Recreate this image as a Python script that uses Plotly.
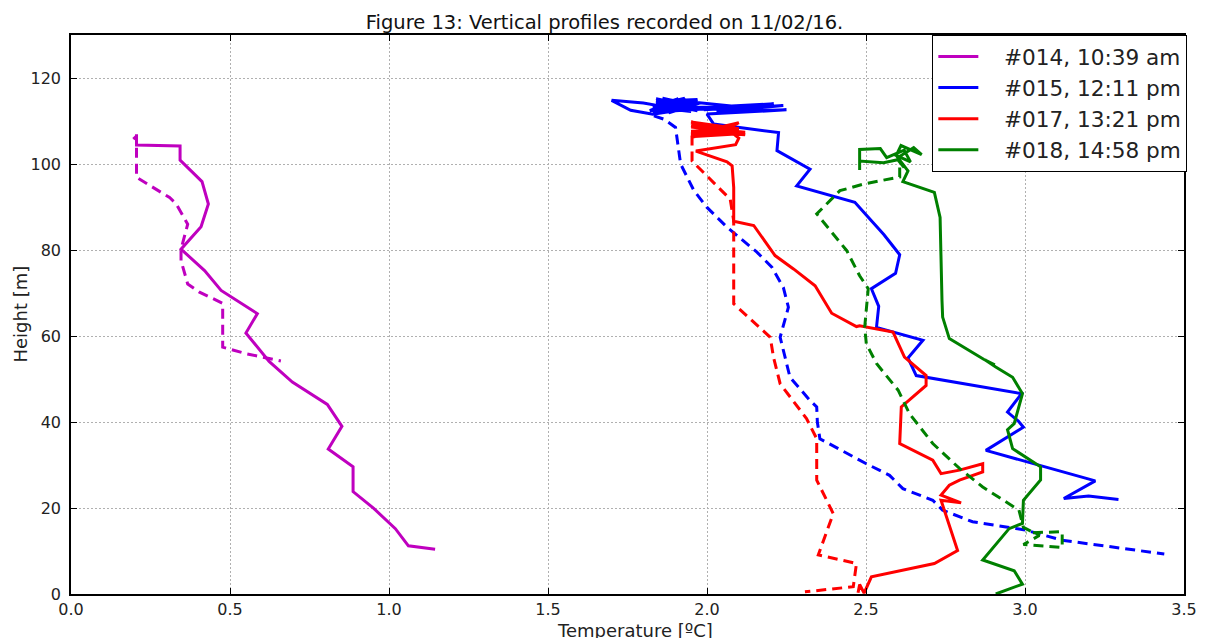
import plotly.graph_objects as go

# ---- Profile #014 (10:39 am) ----
temp_014_up = [1.145, 1.061, 1.020, 0.952, 0.887, 0.887, 0.809, 0.852, 0.806, 0.696, 0.623,
               0.550, 0.586, 0.472, 0.420, 0.346, 0.409, 0.432, 0.412, 0.343, 0.343, 0.206, 0.206]
height_014_up = [10.4, 11.2, 15.2, 19.9, 23.8, 29.6, 33.7, 39.0, 44.1, 49.3, 54.1,
                 60.7, 65.2, 70.6, 75.2, 80.2, 85.4, 90.7, 95.9, 100.9, 104.2, 104.4, 106.9]
temp_014_down = [0.196, 0.206, 0.206, 0.310, 0.331, 0.367, 0.346, 0.346, 0.367, 0.404, 0.477,
                 0.477, 0.550, 0.660]
height_014_down = [105.8, 106.5, 96.9, 92.2, 90.7, 86.0, 80.2, 77.5, 72.1, 70.2, 67.6,
                   57.4, 55.9, 54.2]

# ---- Profile #015 (12:11 pm) ----
temp_015_up = [3.294, 3.247, 3.200, 3.122, 3.221, 2.877, 2.995, 2.979, 2.945, 2.989, 2.658,
               2.632, 2.679, 2.533, 2.540, 2.517, 2.593, 2.606, 2.556, 2.517, 2.465, 2.282,
               2.324, 2.220, 2.225, 2.021, 2.000,
               2.25, 2.03, 2.24, 1.99, 2.21, 1.96, 2.17, 1.93, 1.85, 1.97, 1.84, 1.95, 1.83,
               1.91, 1.82, 1.94, 1.86, 1.97, 1.84, 1.96, 1.83, 1.95, 1.84, 1.97, 1.86,
               1.93, 1.88, 1.98, 1.85, 2.12, 1.90, 1.83, 1.76, 1.70, 1.80, 1.86]
height_015_up = [22.0, 22.4, 22.8, 22.2, 26.3, 33.4, 38.8, 40.2, 42.3, 46.6, 50.8,
                 54.9, 59.0, 62.0, 66.9, 71.0, 74.6, 78.9, 83.6, 86.8, 91.1, 94.9,
                 98.8, 103.1, 107.3, 109.3, 111.6,
                 112.6, 112.2, 113.6, 112.6, 114.0, 113.0, 112.8, 114.6, 112.0, 115.0, 114.6, 112.2, 113.2,
                 115.2, 112.4, 114.0, 115.3, 112.6, 114.2, 114.8, 112.0, 113.5, 115.2, 112.4, 114.0,
                 115.3, 111.9, 114.2, 113.0, 113.4, 112.4, 111.6, 112.5, 114.8, 114.2, 113.4]
temp_015_down = [1.833, 1.865, 1.901, 1.912, 1.917, 1.959, 2.000, 2.063, 2.157, 2.204, 2.240,
                 2.256, 2.230, 2.261, 2.324, 2.345, 2.347, 2.355, 2.501, 2.574, 2.616, 2.710,
                 2.741, 2.835, 3.000, 3.117, 3.438]
height_015_down = [111.2, 110.4, 108.5, 102.7, 100.0, 93.8, 89.9, 85.3, 79.5, 76.0, 71.3,
                   66.7, 59.7, 50.4, 45.0, 43.5, 40.0, 36.1, 30.3, 27.6, 24.5, 21.8,
                   19.5, 16.8, 14.9, 12.5, 9.3]

# ---- Profile #017 (13:21 pm) ----
temp_017_up = [2.475, 2.480, 2.494, 2.517, 2.715, 2.788, 2.736, 2.799, 2.736, 2.762, 2.794,
               2.867, 2.867, 2.794, 2.736, 2.710, 2.606, 2.611, 2.689, 2.689, 2.621, 2.585,
               2.480, 2.470, 2.392, 2.340, 2.272, 2.214, 2.147, 2.084, 2.084, 2.079, 2.063,
               1.965, 2.090, 2.100,
               2.08, 1.95, 2.10, 1.95, 2.06, 1.95, 2.12, 1.95, 2.10, 2.05, 1.96, 2.12, 1.95,
               2.08, 1.95, 2.09, 1.96, 2.10, 1.95, 2.04, 1.95, 2.03, 1.95]
height_017_up = [0.3, 2.2, 0.2, 4.0, 7.1, 10.1, 21.8, 21.2, 23.0, 25.3, 26.5,
                 28.4, 30.3, 28.8, 28.0, 31.1, 35.0, 43.5, 48.5, 50.8, 55.1, 60.9,
                 62.4, 62.2, 65.3, 71.7, 75.6, 78.7, 85.7, 86.7, 94.5, 99.6, 100.5,
                 103.0, 104.5, 106.0,
                 107.2, 109.8, 108.2, 106.2, 107.6, 108.6, 107.4, 107.0, 109.6, 107.6, 109.6, 106.8, 107.6,
                 108.0, 109.5, 107.0, 106.4, 107.8, 108.9, 107.5, 106.8, 108.0, 106.6]
temp_017_down = [1.953, 1.953, 2.073, 2.084, 2.084, 2.199, 2.209, 2.230, 2.313, 2.345, 2.345,
                 2.397, 2.350, 2.470, 2.460, 2.308]
height_017_down = [106.6, 100.7, 91.8, 86.8, 67.5, 59.7, 55.1, 48.9, 40.8, 36.1, 26.5,
                   18.7, 9.1, 7.1, 1.7, 0.5]

# ---- Profile #018 (14:58 pm) ----
temp_018_up = [2.908, 2.992, 2.966, 2.867, 2.950, 2.992, 2.995, 3.049, 3.049, 2.961, 2.945,
               2.966, 2.992, 2.961, 2.908, 2.875, 2.905, 2.870, 2.762, 2.741, 2.739, 2.733,
               2.715, 2.616, 2.632,
               2.60, 2.65, 2.675, 2.61, 2.595, 2.64, 2.62, 2.565, 2.545, 2.48, 2.48, 2.48,
               2.555, 2.60, 2.62]
height_018_up = [0.0, 2.3, 5.4, 7.9, 15.2, 16.4, 21.8, 26.5, 29.6, 33.8, 38.2,
                 39.6, 46.6, 50.4, 52.8, 54.4, 53.3, 54.6, 59.4, 64.4, 68.2, 87.6,
                 93.4, 95.9, 98.4,
                 101.5, 103.8, 102.2, 104.3, 102.0, 100.5, 103.2, 101.5, 103.6, 103.4, 98.6, 100.7,
                 100.3, 101.0, 99.2]
temp_018_down = [2.606, 2.606, 2.491, 2.418, 2.345, 2.439, 2.480, 2.507, 2.496, 2.501, 2.533,
                 2.601, 2.637, 2.710, 2.794, 2.867, 2.981, 2.995, 3.045, 2.995, 3.117, 3.117,
                 3.005]
height_018_down = [99.2, 97.0, 95.3, 93.8, 88.4, 79.9, 74.0, 71.0, 62.1, 58.2, 53.6,
                   47.4, 41.9, 35.0, 29.2, 24.9, 19.5, 15.5, 13.6, 11.5, 10.8, 14.5,
                   14.2]

profiles = [
    ("#014, 10:39 am", "#bf00bf", temp_014_up, height_014_up, temp_014_down, height_014_down),
    ("#015, 12:11 pm", "#0000ff", temp_015_up, height_015_up, temp_015_down, height_015_down),
    ("#017, 13:21 pm", "#ff0000", temp_017_up, height_017_up, temp_017_down, height_017_down),
    ("#018, 14:58 pm", "#008000", temp_018_up, height_018_up, temp_018_down, height_018_down),
]

# non-breaking spaces open a gap between the legend line and its label
LEGEND_PAD = "\u00a0" * 3

fig = go.Figure()
for name, color, tu, hu, td, hd in profiles:
    fig.add_trace(go.Scatter(
        x=tu, y=hu, mode="lines", name=LEGEND_PAD + name, legendgroup=name,
        line=dict(color=color, width=3),
    ))
    fig.add_trace(go.Scatter(
        x=td, y=hd, mode="lines", name=name, legendgroup=name, showlegend=False,
        line=dict(color=color, width=3, dash="10px,6px"),
    ))

axis_common = dict(
    showline=True, linecolor="black", linewidth=1.5, mirror="allticks",
    ticks="inside", ticklen=6, tickcolor="black", tickwidth=1,
    showgrid=True, gridcolor="#b0b0b0", gridwidth=1, griddash="2px,2px",
    zeroline=False,
    tickfont=dict(family="DejaVu Sans", size=16, color="#222222"),
)

fig.update_xaxes(range=[0, 3.5], tickvals=[0, 0.5, 1, 1.5, 2, 2.5, 3, 3.5],
                 tickformat=".1f", **axis_common)
fig.update_yaxes(range=[0, 130], tickvals=[0, 20, 40, 60, 80, 100, 120],
                 ticklabelstandoff=5, **axis_common)

fig.update_layout(
    width=1209, height=638,
    margin=dict(l=71, r=20, t=35, b=44),
    paper_bgcolor="white", plot_bgcolor="white",
    font=dict(family="DejaVu Sans", color="#222222"),
    title=dict(text="Figure 13: Vertical profiles recorded on 11/02/16.",
               x=0.5, xref="container", xanchor="center",
               y=1 - 22 / 638, yref="container", yanchor="middle",
               font=dict(family="DejaVu Sans", size=19.5, color="#111111")),
    showlegend=True,
    legend=dict(x=1.003, y=1, xanchor="right", yanchor="top",
                bgcolor="white", bordercolor="black", borderwidth=1,
                font=dict(family="DejaVu Sans", size=21.6, color="#222222"),
                tracegroupgap=0, itemwidth=40),
    annotations=[
        dict(text="Temperature [ºC]", xref="paper", yref="paper", x=0.5067, y=0,
             yshift=-36, xanchor="center", yanchor="middle", showarrow=False,
             font=dict(family="DejaVu Sans", size=18, color="#222222")),
        dict(text="Height [m]", xref="paper", yref="paper", x=0, y=0.5,
             xshift=-51, xanchor="center", yanchor="middle", textangle=-90, showarrow=False,
             font=dict(family="DejaVu Sans", size=18, color="#222222")),
    ],
)

fig.write_html("out.html")
